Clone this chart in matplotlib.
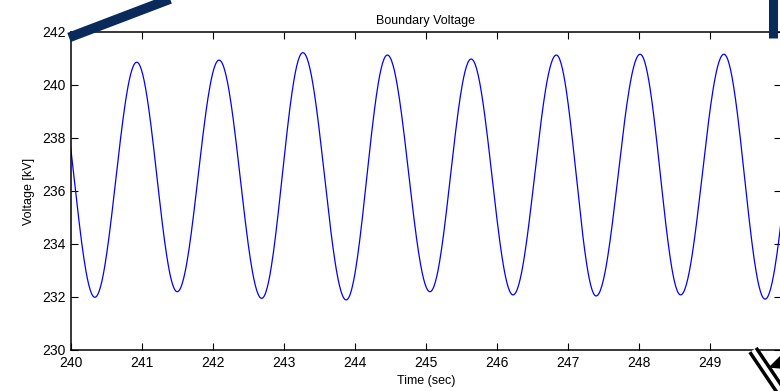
import numpy as np
import matplotlib
matplotlib.use("Agg")
import matplotlib.pyplot as plt
from matplotlib.lines import Line2D
from matplotlib.patches import Polygon

# Extremes of the waveform (time [s], voltage [kV])
peak_times = [239.76, 240.93, 242.09, 243.27, 244.46, 245.64, 246.84, 248.02, 249.20, 250.37]
peak_values = [240.9, 240.86, 240.94, 241.22, 241.13, 240.98, 241.13, 241.16, 241.16, 241.1]
trough_times = [240.34, 241.50, 242.69, 243.88, 245.06, 246.23, 247.40, 248.59, 249.78]
trough_values = [231.99, 232.2, 231.95, 231.89, 232.2, 232.08, 232.04, 232.08, 231.92]

x_ticks = [240, 241, 242, 243, 244, 245, 246, 247, 248, 249]
y_ticks = [230, 232, 234, 236, 238, 240, 242]

# merge extremes in time order
ext_t = []
ext_v = []
for i in range(len(trough_times)):
    ext_t += [peak_times[i], trough_times[i]]
    ext_v += [peak_values[i], trough_values[i]]
ext_t.append(peak_times[-1]); ext_v.append(peak_values[-1])

# smooth half-cosine rendering between successive extremes
ts, vs = [], []
for a in range(len(ext_t) - 1):
    t0, t1, v0, v1 = ext_t[a], ext_t[a + 1], ext_v[a], ext_v[a + 1]
    s = np.linspace(0, 1, 60, endpoint=False)
    ts.append(t0 + (t1 - t0) * s)
    vs.append(v0 + (v1 - v0) * 0.5 * (1 - np.cos(np.pi * s)))
t = np.concatenate(ts)
v = np.concatenate(vs)

plt.rcParams['font.family'] = ['Liberation Sans', 'DejaVu Sans']

W, H = 780, 391
fig = plt.figure(figsize=(W / 100, H / 100), dpi=100)
ax = fig.add_axes([70.7 / W, 1 - 350 / H, 710 / W, 318 / H])
ax.plot(t, v, color='#0000ff', lw=0.9)
ax.set_xlim(240, 250)
ax.set_ylim(230, 242)
ax.set_xticks(x_ticks)
ax.set_yticks(y_ticks)
ax.tick_params(direction='in', length=5, width=0.8, top=True, right=True,
               labelsize=10, colors='black')
ax.tick_params(axis='x', pad=4)
ax.tick_params(axis='y', pad=3.5)
for sp in ax.spines.values():
    sp.set_linewidth(1.1)
    sp.set_color('black')
ax.set_title('Boundary Voltage', fontsize=9, pad=6)
ax.set_xlabel('Time (sec)', fontsize=9, labelpad=4)
ax.set_ylabel('Voltage [kV]', fontsize=9, labelpad=5)

def fx(px):
    return px / W

def fy(py):
    return 1 - py / H

navy = '#0b2a5c'
# decorative annotation strokes
fig.add_artist(Line2D([fx(69), fx(178)], [fy(37.5), fy(-4)], color=navy, lw=7,
                      solid_capstyle='butt', transform=fig.transFigure))
fig.add_artist(Line2D([fx(772.5), fx(772.5)], [fy(38), fy(-2)], color=navy, lw=6.5,
                      solid_capstyle='butt', transform=fig.transFigure))
fig.add_artist(Line2D([fx(753), fx(784)], [fy(350), fy(396)], color='black', lw=8,
                      solid_capstyle='butt', transform=fig.transFigure))
fig.add_artist(Line2D([fx(753), fx(784)], [fy(350), fy(396)], color='white', lw=3,
                      solid_capstyle='butt', transform=fig.transFigure))
fig.add_artist(Polygon([[fx(770), fy(367)], [fx(781), fy(356)], [fx(781), fy(368)]],
                       closed=True, color='black', transform=fig.transFigure))

fig.savefig('out.png', dpi=100)
